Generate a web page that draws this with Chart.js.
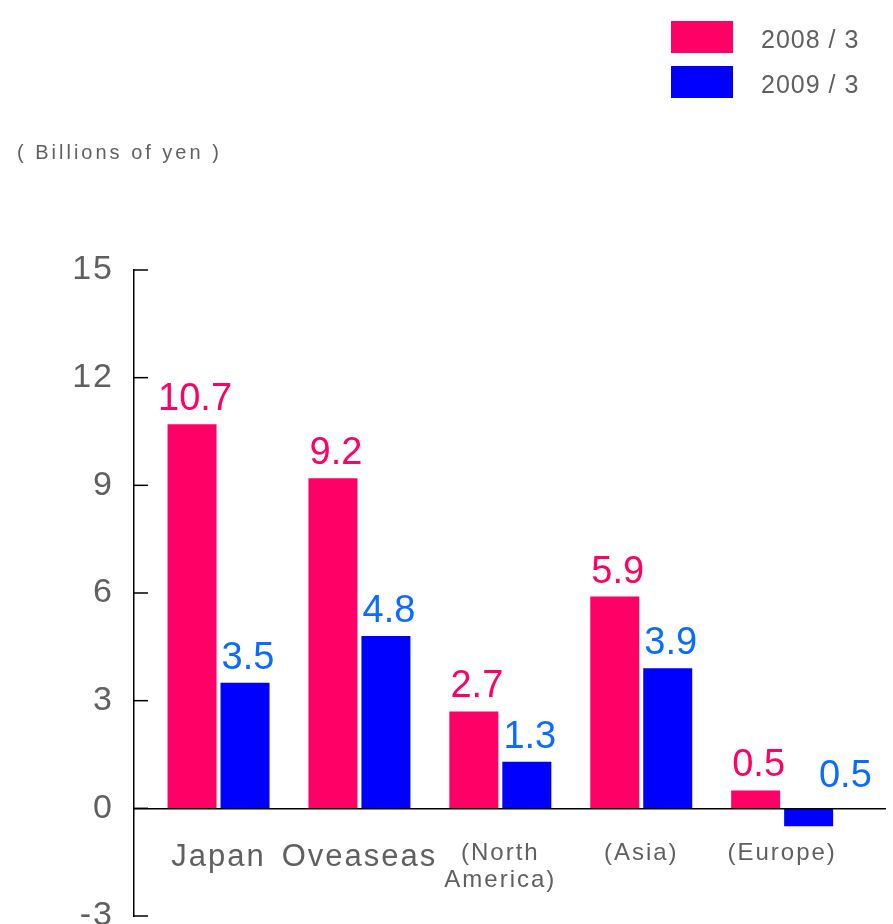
<!DOCTYPE html>
<html>
<head>
<meta charset="utf-8">
<script src="https://cdn.jsdelivr.net/npm/chart.js@4.4.1/dist/chart.umd.min.js"></script>
<style>
  html, body { margin: 0; padding: 0; background: #ffffff; }
  #wrap { position: relative; width: 893px; height: 924px; }
</style>
</head>
<body>
<div id="wrap"><canvas id="chart"></canvas></div>
<script>
// Operating income by region, billions of yen
const categories = ['Japan', 'Oveaseas', '(North\nAmerica)', '(Asia)', '(Europe)'];
const seriesNames = ['2008 / 3', '2009 / 3'];
const income2008 = [10.7, 9.2, 2.7, 5.9, 0.5];
const income2009 = [3.5, 4.8, 1.3, 3.9, -0.5];
const yTickValues = [-3, 0, 3, 6, 9, 12, 15];
const unitLabel = '( Billions of yen )';

const FONT = '"Liberation Sans", Arial, Helvetica, sans-serif';
const GRAY = '#606060';
const RED = '#ff0066';
const BLUE = '#0000ff';
const RED_TEXT = '#ff0066';
const BLUE_TEXT = '#0a6cff';

const toPoints = vals => vals.map((v, i) => ({ x: i, y: v }));

// Value labels, inward y tick marks, legend and unit caption
const decorations = {
  id: 'decorations',
  beforeDraw(chart) { chart.ctx.letterSpacing = '2px'; },
  beforeDatasetsDraw(chart) { chart.ctx.letterSpacing = '0px'; },
  afterDraw(chart) {
    const ctx = chart.ctx;
    const yScale = chart.scales.y;
    const area = chart.chartArea;
    ctx.save();
    ctx.letterSpacing = '0px';

    // short tick marks pointing into the plot
    ctx.strokeStyle = '#000';
    ctx.lineWidth = 1.5;
    yScale.ticks.forEach(t => {
      const py = yScale.getPixelForValue(t.value);
      ctx.beginPath();
      ctx.moveTo(area.left, py);
      ctx.lineTo(area.left + 14, py);
      ctx.stroke();
    });

    // value labels above each bar
    const labelColors = [RED_TEXT, BLUE_TEXT];
    const zeroY = yScale.getPixelForValue(0);
    ctx.font = '38px ' + FONT;
    ctx.textBaseline = 'alphabetic';
    chart.data.datasets.forEach((ds, di) => {
      const meta = chart.getDatasetMeta(di);
      ctx.fillStyle = labelColors[di];
      meta.data.forEach((bar, i) => {
        const v = ds.data[i].y;
        const text = Math.abs(v).toFixed(1);
        ctx.textAlign = 'center';
        if (v >= 0) {
          ctx.fillText(text, bar.x + 3, bar.y - 14);
        } else {
          ctx.fillText(text, bar.x + bar.width * 0.75, zeroY - 21);
        }
      });
    });

    // legend, stacked at the top right
    ctx.font = '25px ' + FONT;
    ctx.letterSpacing = '1px';
    ctx.textAlign = 'left';
    ctx.textBaseline = 'middle';
    chart.data.datasets.forEach((ds, di) => {
      const top = 21 + di * 45;
      ctx.fillStyle = ds.backgroundColor;
      ctx.fillRect(671, top, 62, 32);
      ctx.fillStyle = GRAY;
      ctx.fillText(ds.label, 761, top + 20);
    });

    // unit caption
    ctx.font = '20px ' + FONT;
    ctx.letterSpacing = '3px';
    ctx.textBaseline = 'alphabetic';
    ctx.fillStyle = GRAY;
    ctx.fillText(unitLabel, 17, 159);

    ctx.restore();
  }
};

new Chart(document.getElementById('chart'), {
  type: 'bar',
  data: {
    datasets: [
      { label: seriesNames[0], data: toPoints(income2008), backgroundColor: RED, borderWidth: 0 },
      { label: seriesNames[1], data: toPoints(income2009), backgroundColor: BLUE, borderWidth: 0 }
    ]
  },
  options: {
    responsive: true,
    maintainAspectRatio: false,
    animation: false,
    categoryPercentage: 0.752,
    barPercentage: 0.925,
    layout: { padding: { top: 270, right: 8, bottom: 8, left: 0 } },
    plugins: {
      legend: { display: false },
      title: { display: false },
      tooltip: { enabled: false }
    },
    scales: {
      x: {
        type: 'linear',
        position: { y: 0 },
        offset: false,
        min: -0.6,
        max: 4.73,
        afterBuildTicks: scale => { scale.ticks = categories.map((c, i) => ({ value: i })); },
        grid: { display: false, drawTicks: false },
        border: { display: true, color: '#000', width: 1.5, z: 1 },
        ticks: {
          autoSkip: false,
          maxRotation: 0,
          minRotation: 0,
          padding: 32,
          color: GRAY,
          font: ctx => (ctx.index < 2
            ? { family: FONT, size: 31, lineHeight: 1.1 }
            : { family: FONT, size: 24, lineHeight: 1.1 }),
          callback: value => {
            const name = categories[value];
            return name === undefined ? '' : name.split('\n');
          }
        }
      },
      y: {
        type: 'linear',
        min: -3,
        max: 15,
        afterBuildTicks: scale => { scale.ticks = yTickValues.map(v => ({ value: v })); },
        afterFit: scale => {
          scale.width = 134;
          scale.paddingTop = 0;
          scale.paddingBottom = 0;
        },
        grid: { display: false, drawTicks: false },
        border: { display: true, color: '#000', width: 1.5 },
        ticks: {
          padding: 20,
          color: GRAY,
          font: { family: FONT, size: 34 }
        }
      }
    }
  },
  plugins: [decorations]
});
</script>
</body>
</html>
